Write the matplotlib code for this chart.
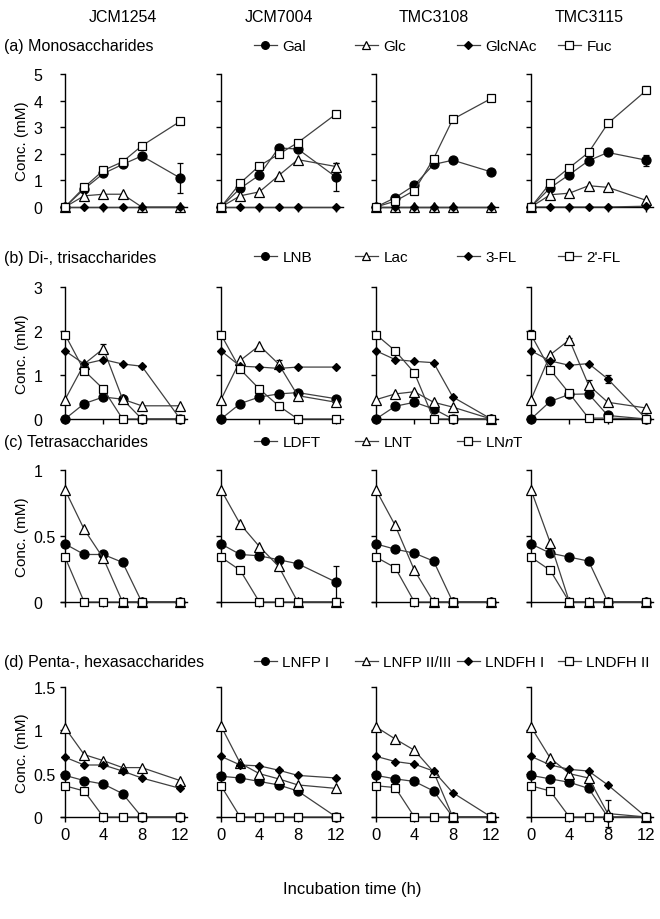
import matplotlib
matplotlib.use("Agg")
import matplotlib.pyplot as plt
from matplotlib.lines import Line2D

plt.rcParams['font.family'] = ['Liberation Sans', 'DejaVu Sans']
plt.rcParams['mathtext.fontset'] = 'custom'
plt.rcParams['mathtext.rm'] = 'Liberation Sans'
plt.rcParams['mathtext.it'] = 'Liberation Sans:italic'

hours = [0, 2, 4, 6, 8, 12]
strains = ["JCM1254", "JCM7004", "TMC3108", "TMC3115"]

# (a) monosaccharides (mM), one list per strain
gal = [[0, 0.68, 1.26, 1.60, 1.92, 1.09],
       [0, 0.70, 1.20, 2.22, 2.18, 1.12],
       [0, 0.35, 0.82, 1.60, 1.76, 1.32],
       [0, 0.72, 1.22, 1.74, 2.05, 1.76]]
glc = [[0, 0.42, 0.48, 0.48, 0, 0],
       [0, 0.42, 0.57, 1.18, 1.78, 1.52],
       [0, 0, 0, 0, 0, 0],
       [0, 0.46, 0.52, 0.80, 0.74, 0.25]]
glcnac = [[0, 0, 0, 0, 0, 0],
          [0, 0, 0, 0, 0, 0],
          [0, 0, 0, 0, 0, 0],
          [0, 0, 0, 0, 0, 0.03]]
fuc = [[0, 0.74, 1.38, 1.70, 2.30, 3.22],
       [0, 0.90, 1.55, 1.98, 2.42, 3.50],
       [0, 0.22, 0.62, 1.82, 3.30, 4.08],
       [0, 0.90, 1.48, 2.05, 3.14, 4.38]]

# (b) di-, trisaccharides
lnb = [[0, 0.35, 0.50, 0.45, 0, 0],
       [0, 0.35, 0.50, 0.57, 0.60, 0.46],
       [0, 0.29, 0.38, 0.23, 0, 0],
       [0, 0.40, 0.56, 0.57, 0.08, 0]]
lac = [[0.44, 1.25, 1.60, 0.45, 0.30, 0.30],
       [0.44, 1.33, 1.67, 1.25, 0.53, 0.38],
       [0.44, 0.57, 0.62, 0.38, 0.27, 0],
       [0.44, 1.46, 1.80, 0.77, 0.38, 0.25]]
fl3 = [[1.55, 1.25, 1.35, 1.25, 1.20, 0],
       [1.55, 1.20, 1.18, 1.15, 1.18, 1.18],
       [1.55, 1.35, 1.31, 1.28, 0.50, 0],
       [1.55, 1.32, 1.22, 1.26, 0.91, 0]]
fl2 = [[1.92, 1.10, 0.68, 0, 0, 0],
       [1.92, 1.13, 0.68, 0.30, 0, 0],
       [1.92, 1.55, 1.05, 0, 0, 0],
       [1.92, 1.12, 0.58, 0.02, 0.02, 0]]

# (c) tetrasaccharides
ldft = [[0.44, 0.36, 0.36, 0.30, 0, 0],
        [0.44, 0.36, 0.35, 0.32, 0.29, 0.15],
        [0.44, 0.40, 0.37, 0.31, 0, 0],
        [0.44, 0.37, 0.34, 0.31, 0, 0]]
lnt = [[0.85, 0.55, 0.33, 0, 0, 0],
       [0.85, 0.59, 0.42, 0.27, 0, 0],
       [0.85, 0.58, 0.24, 0, 0, 0],
       [0.85, 0.45, 0, 0, 0, 0]]
lnnt = [[0.34, 0, 0, 0, 0, 0],
        [0.34, 0.24, 0, 0, 0, 0],
        [0.34, 0.26, 0, 0, 0, 0],
        [0.34, 0.24, 0, 0, 0, 0]]

# (d) penta-, hexasaccharides
lnfp1 = [[0.48, 0.42, 0.38, 0.27, 0, 0],
         [0.47, 0.45, 0.41, 0.37, 0.30, 0],
         [0.48, 0.44, 0.41, 0.30, 0, 0],
         [0.48, 0.44, 0.40, 0.33, 0, 0]]
lnfp23 = [[1.03, 0.72, 0.65, 0.57, 0.57, 0.42],
          [1.05, 0.62, 0.50, 0.44, 0.37, 0.33],
          [1.04, 0.90, 0.77, 0.52, 0, 0],
          [1.04, 0.68, 0.50, 0.45, 0.04, 0]]
lndfh1 = [[0.69, 0.60, 0.60, 0.53, 0.45, 0.33],
          [0.70, 0.60, 0.59, 0.54, 0.48, 0.45],
          [0.70, 0.64, 0.61, 0.53, 0.28, 0],
          [0.70, 0.60, 0.55, 0.53, 0.37, 0]]
lndfh2 = [[0.36, 0.30, 0, 0, 0, 0],
          [0.36, 0, 0, 0, 0, 0],
          [0.36, 0.34, 0, 0, 0, 0],
          [0.36, 0.30, 0, 0, 0, 0]]

# visible error bars: (series, strain index, hour, sd)
err_bars = [("Gal", 0, 12, 0.55), ("Gal", 1, 12, 0.52), ("Glc", 1, 12, 0.12),
            ("Fuc", 1, 12, 0.08), ("Gal", 3, 12, 0.20), ("Fuc", 3, 12, 0.08),
            ("Lac", 0, 4, 0.10), ("Lac", 1, 6, 0.10), ("Lac", 3, 6, 0.12),
            ("Lac", 3, 4, 0.05), ("3-FL", 3, 8, 0.10), ("2'-FL", 3, 0, 0.10),
            ("LDFT", 1, 12, 0.12), ("LNFP II/III", 3, 8, 0.16)]

row_titles = ["(a) Monosaccharides", "(b) Di-, trisaccharides",
              "(c) Tetrasaccharides", "(d) Penta-, hexasaccharides"]
row_ymax = [5, 3, 1, 1.5]
row_yticks = [[0, 1, 2, 3, 4, 5], [0, 1, 2, 3], [0, 0.5, 1], [0, 0.5, 1, 1.5]]
row_yticklabels = [["0", "1", "2", "3", "4", "5"], ["0", "1", "2", "3"],
                   ["0", "0.5", "1"], ["0", "0.5", "1", "1.5"]]
rows = [[("Gal", gal, "circle"), ("Glc", glc, "tri"),
         ("GlcNAc", glcnac, "diamond"), ("Fuc", fuc, "square")],
        [("LNB", lnb, "circle"), ("Lac", lac, "tri"),
         ("3-FL", fl3, "diamond"), ("2'-FL", fl2, "square")],
        [("LDFT", ldft, "circle"), ("LNT", lnt, "tri"),
         ("LN$\\mathit{n}$T", lnnt, "square")],
        [("LNFP I", lnfp1, "circle"), ("LNFP II/III", lnfp23, "tri"),
         ("LNDFH I", lndfh1, "diamond"), ("LNDFH II", lndfh2, "square")]]

styles = {"circle": dict(marker='o', mfc='black', ms=6.5),
          "tri": dict(marker='^', mfc='white', ms=6.5),
          "diamond": dict(marker='D', mfc='black', ms=4.5),
          "square": dict(marker='s', mfc='white', ms=6)}
line_col = '#404040'

# layout in pixels
W, H = 660, 920
spine_x = [65, 221, 376, 531]
px_h = 9.6
x_lo, x_hi = -0.45, 12.75
row_top = [75, 288, 471, 688]
row_bot = [208, 420, 603, 818]
label_y = [47, 258, 443, 663]
leg_x = [254, 355, 457, 558]

fig = plt.figure(figsize=(W / 100, H / 100), dpi=100)

lookup = {}
for series in rows:
    for name, data, st in series:
        lookup[name] = data

for r, series in enumerate(rows):
    names = [s[0] for s in series]
    for c in range(4):
        left = (spine_x[c] + x_lo * px_h) / W
        width = (x_hi - x_lo) * px_h / W
        bottom = 1 - row_bot[r] / H
        ax = fig.add_axes([left, bottom, width, (row_bot[r] - row_top[r]) / H])
        ax.set_xlim(x_lo, x_hi)
        ax.set_ylim(0, row_ymax[r])
        for s in ['top', 'right']:
            ax.spines[s].set_visible(False)
        ax.spines['left'].set_position(('data', 0))
        for s in ['left', 'bottom']:
            ax.spines[s].set_linewidth(1.0)
        ax.set_xticks([0, 4, 8, 12])
        ax.set_yticks(row_yticks[r])
        ax.tick_params(direction='out', length=3.5, width=1.0, labelsize=11.5)
        ax.tick_params(axis='y', pad=19)
        if c == 0:
            ax.set_yticklabels(row_yticklabels[r])
            for t in ax.get_yticklabels():
                t.set_horizontalalignment('left')
        else:
            ax.set_yticklabels([])
        if r == 3:
            ax.set_xticklabels(['0', '4', '8', '12'], fontsize=12)
        else:
            ax.set_xticklabels([])

        for k, (name, data, st) in enumerate(series):
            ax.plot(hours, data[c], color=line_col, lw=0.9, mec='black',
                    mew=0.9, clip_on=False, zorder=3 + k, **styles[st])
        for name, si, hr, sd in err_bars:
            if si == c and name in names:
                v = lookup[name][c][hours.index(hr)]
                ax.errorbar([hr], [v], yerr=[sd], fmt='none', ecolor='black',
                            elinewidth=0.9, capsize=2.5, capthick=0.9,
                            clip_on=False, zorder=2)

    # row label, y label and legend
    fig.text(4 / W, 1 - label_y[r] / H, row_titles[r], ha='left',
             va='center', fontsize=11.5)
    fig.text(22 / W, 1 - (row_top[r] + row_bot[r]) / 2 / H, 'Conc. (mM)',
             rotation=90, ha='center', va='center', fontsize=11)
    for k, (name, data, st) in enumerate(series):
        st_kw = dict(styles[st])
        st_kw['ms'] = st_kw['ms'] * 0.85
        h = Line2D([], [], color=line_col, lw=0.9, mec='black', mew=0.9, **st_kw)
        fig.legend([h], [name], loc='center left',
                   bbox_to_anchor=(leg_x[k] / W, 1 - label_y[r] / H),
                   frameon=False, handlelength=1.5, handletextpad=0.35,
                   borderpad=0, borderaxespad=0, fontsize=11)

for c, name in enumerate(strains):
    fig.text((spine_x[c] + 58) / W, 1 - 17 / H, name, ha='center',
             va='center', fontsize=11.5)

fig.text(352 / W, 1 - 890 / H, 'Incubation time (h)', ha='center',
         va='center', fontsize=12)

fig.savefig('out.png', dpi=100)
